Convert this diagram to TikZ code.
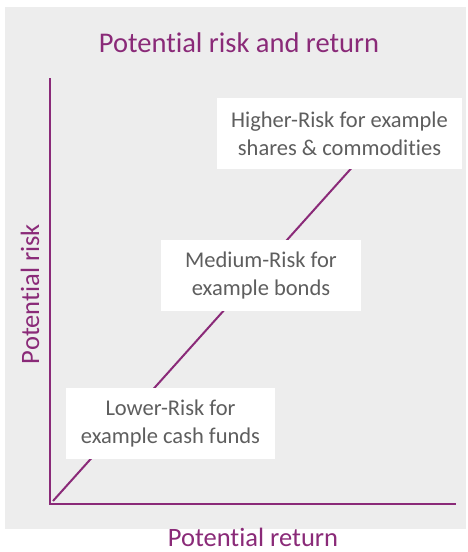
\documentclass[tikz,border=0pt]{standalone}
\usepackage{fontspec}
\setmainfont[Ligatures=NoCommon]{Carlito}
\definecolor{plum}{HTML}{8A2A78}
\definecolor{bgray}{HTML}{EDEDED}
\definecolor{tgray}{HTML}{5E5E5E}
\begin{document}
\begin{tikzpicture}[x=1pt,y=-1pt,
  riskbox/.style={fill=white, draw=none, minimum height=71pt, inner sep=0pt, align=center,
    text=tgray, font=\fontsize{22.5}{28}\selectfont},
  axislabel/.style={text=plum, font=\fontsize{26.5}{30}\selectfont, inner sep=0pt},
  axisline/.style={draw=plum, line width=2.6pt},
]
\useasboundingbox (0,0) rectangle (467,552);
\fill[white] (0,0) rectangle (467,552);
\fill[bgray] (5,7) rectangle (466,529);
\node[text=plum, font=\fontsize{28.5}{32}\selectfont, inner sep=0pt, anchor=base] (title) at (239,52) {Potential risk and return};
\coordinate (O) at (50,504);
\coordinate (ytop) at (50,78);
\coordinate (xend) at (456,504);
\coordinate (dstart) at (53,501);
\coordinate (dend) at (356,163);
\draw[plum, line width=2pt] (dstart) -- (dend);
\draw[axisline] (ytop) -- (O) -- (xend);
\node[riskbox, minimum width=245pt] (high) at (339.5,133.5) {Higher-Risk for example\\shares \& commodities};
\node[riskbox, minimum width=200pt] (med) at (261,275.5) {Medium-Risk for\\example bonds};
\node[riskbox, minimum width=209pt] (low) at (170.5,423.5) {Lower-Risk for\\example cash funds};
\node[axislabel, rotate=90] (ylab) at (30,294) {Potential risk};
\node[axislabel, anchor=base] (xlab) at (253,546) {Potential return};
\end{tikzpicture}
\end{document}
